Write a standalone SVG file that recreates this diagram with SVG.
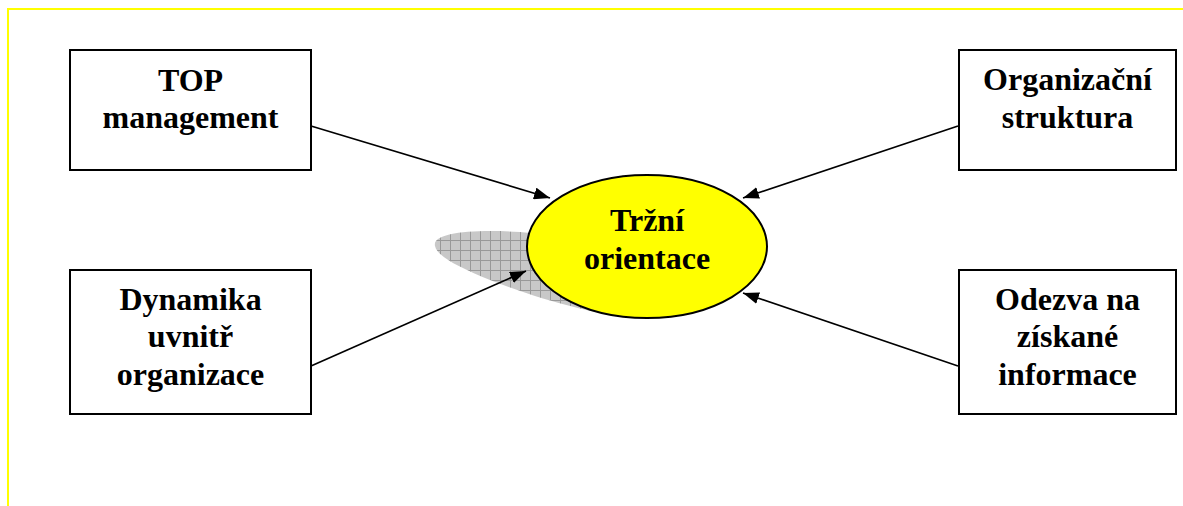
<svg xmlns="http://www.w3.org/2000/svg" width="1183" height="506" viewBox="0 0 1183 506">
<style>
.box{fill:#fff;stroke:#000;stroke-width:2}
.t{font-family:"Liberation Serif","Times New Roman",serif;font-weight:bold;font-size:32px;text-anchor:middle;fill:#000}
.c{stroke:#000;stroke-width:1.7;fill:none;marker-end:url(#ah)}
</style>
<defs>
<marker id="ah" viewBox="0 0 16 12" refX="16" refY="6" markerWidth="16" markerHeight="12" markerUnits="userSpaceOnUse" orient="auto">
<path d="M0,0 L16,6 L0,12 Z" fill="#000"/>
</marker>
<pattern id="hatch" width="10" height="10" patternUnits="userSpaceOnUse">
<rect width="10" height="10" fill="#c8c8c8"/>
<path d="M0,0.5 H10 M0.5,0 V10" stroke="#999" stroke-width="1"/>
</pattern>
</defs>
<path d="M8,506 V9 H1183" fill="none" stroke="#ffff00" stroke-width="2"/>
<g id="shadow">
<path d="M435,246 C432,233 470,229 520,232 L600,240 L640,318 C600,316 540,300 490,280 C458,267 437,256 435,246 Z" fill="url(#hatch)"/>
</g>
<g id="connectors">
<line class="c" x1="311" y1="126" x2="550" y2="198"/>
<line class="c" x1="958" y1="126" x2="743" y2="198"/>
<line class="c" x1="311" y1="366" x2="526" y2="271"/>
<line class="c" x1="958" y1="366" x2="743" y2="293"/>
</g>
<g id="center">
<ellipse cx="647" cy="246.5" rx="120" ry="71.5" fill="#ffff00" stroke="#000" stroke-width="2"/>
<text class="t" x="647" y="231">Tržní</text>
<text class="t" x="647" y="269">orientace</text>
</g>
<g id="top">
<rect class="box" x="70" y="50" width="241" height="120"/>
<text class="t" x="190.5" y="91">TOP</text>
<text class="t" x="190.5" y="128">management</text>
</g>
<g id="org">
<rect class="box" x="959" y="50" width="217" height="120"/>
<text class="t" x="1067.5" y="90">Organizační</text>
<text class="t" x="1067.5" y="128">struktura</text>
</g>
<g id="dyn">
<rect class="box" x="70" y="270" width="241" height="144"/>
<text class="t" x="190.5" y="310">Dynamika</text>
<text class="t" x="190.5" y="347">uvnitř</text>
<text class="t" x="190.5" y="385">organizace</text>
</g>
<g id="odezva">
<rect class="box" x="959" y="270" width="217" height="144"/>
<text class="t" x="1067.5" y="310">Odezva na</text>
<text class="t" x="1067.5" y="347">získané</text>
<text class="t" x="1067.5" y="385">informace</text>
</g>
</svg>
